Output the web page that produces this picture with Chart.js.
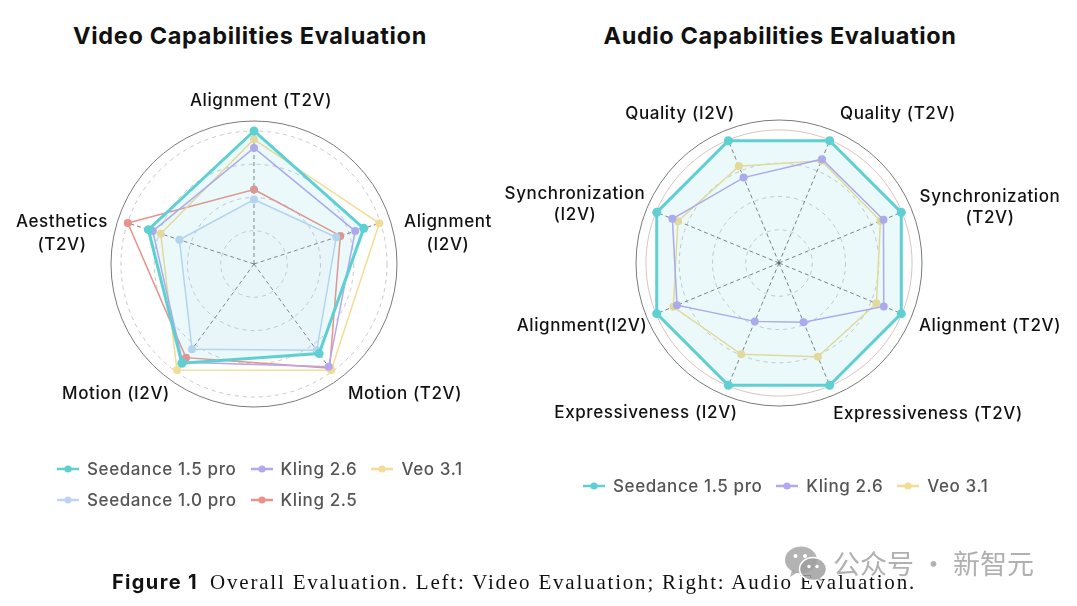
<!DOCTYPE html>
<html>
<head>
<meta charset="utf-8">
<script src="https://cdn.jsdelivr.net/npm/chart.js@4.4.0/dist/chart.umd.min.js"></script>
<style>
  html, body { margin:0; padding:0; background:#fff; width:1077px; height:606px; overflow:hidden; }
  body { position:relative; font-family: Inter, "DejaVu Sans", sans-serif; }
  canvas { position:absolute; top:0; }
  .title { position:absolute; top:21px; font-weight:700; font-size:23.5px; color:#111; white-space:nowrap; transform:translateX(-50%); line-height:30px; }
  .legend { position:absolute; display:grid; column-gap:14px; row-gap:0; font-size:17px; font-weight:500; color:#555; }
  .legend .item { display:flex; align-items:center; height:31px; white-space:nowrap; }
  .legend svg { margin-right:8px; flex:none; }
  .caption { position:absolute; left:112px; top:569px; white-space:nowrap; line-height:26px; }
  .caption .fig { font-family: Inter, sans-serif; font-weight:700; font-size:20px; color:#111; }
  .caption .txt { font-family: "Liberation Serif", serif; font-size:21px; color:#111; margin-left:12px; }
  .wm { position:absolute; left:833px; top:546px; font-family:"Noto Sans CJK SC", sans-serif; font-size:27px; color:rgba(150,150,150,0.75); white-space:nowrap; line-height:34px; }
  .wmicon { position:absolute; left:784px; top:545px; }
</style>
</head>
<body>
<div class="title" id="t1" style="left:250px">Video Capabilities Evaluation</div>
<div class="title" id="t2" style="left:780px">Audio Capabilities Evaluation</div>
<canvas id="video" width="540" height="606" style="left:0px"></canvas>
<canvas id="audio" width="637" height="606" style="left:440px"></canvas>
<div class="legend" id="legVideo" style="left:57px; top:453px; grid-template-columns:auto auto auto;"></div>
<div class="legend" id="legAudio" style="left:583px; top:470px; grid-template-columns:auto auto auto;"></div>
<div class="caption"><span class="fig" id="fig">Figure 1</span><span class="txt" id="cap">Overall Evaluation. Left: Video Evaluation; Right: Audio Evaluation.</span></div>
<svg class="wmicon" width="44" height="38" viewBox="0 0 44 38">
  <ellipse cx="17" cy="15" rx="16" ry="13.5" fill="rgba(160,160,160,0.8)"/>
  <path d="M8 25 L6 32 L14 27 Z" fill="rgba(160,160,160,0.8)"/>
  <ellipse cx="29" cy="24" rx="13.5" ry="11.5" fill="rgba(160,160,160,0.85)" stroke="#fff" stroke-width="1.5"/>
  <path d="M36 33 L39 37 L33 34 Z" fill="rgba(160,160,160,0.85)"/>
  <circle cx="11.5" cy="11" r="2" fill="#fff"/><circle cx="21" cy="11" r="2" fill="#fff"/>
  <circle cx="25" cy="21.5" r="1.7" fill="#fff"/><circle cx="33" cy="21.5" r="1.7" fill="#fff"/>
</svg>
<div class="wm">公众号 · 新智元</div>
<script>
// ---------------- DATA ----------------
const videoAxes = [['Alignment (T2V)'], ['Alignment', '(I2V)'], ['Motion (T2V)'], ['Motion (I2V)'], ['Aesthetics', '(T2V)']];
const videoSeries = ['Seedance 1.5 pro', 'Kling 2.6', 'Veo 3.1', 'Seedance 1.0 pro', 'Kling 2.5'];
const videoSeedance15 = [4.00, 3.47, 3.33, 3.69, 3.34];
const videoKling26    = [3.49, 3.20, 3.82, 3.65, 3.20];
const videoVeo31      = [3.75, 3.96, 3.95, 3.94, 2.95];
const videoSeedance10 = [1.94, 2.60, 3.21, 3.17, 2.36];
const videoKling25    = [2.24, 2.73, 3.87, 3.48, 3.99];

const audioAxes = [['Quality (T2V)'], ['Synchronization', '(T2V)'], ['Alignment (T2V)'], ['Expressiveness (T2V)'],
                   ['Expressiveness (I2V)'], ['Alignment(I2V)'], ['Synchronization', '(I2V)'], ['Quality (I2V)']];
const audioSeries = ['Seedance 1.5 pro', 'Kling 2.6', 'Veo 3.1'];
const audioSeedance15 = [3.98, 3.98, 3.98, 3.98, 3.98, 3.98, 3.98, 3.98];
const audioKling26    = [3.38, 3.40, 3.41, 1.93, 1.90, 3.32, 3.47, 2.78];
const audioVeo31      = [3.33, 3.30, 3.17, 3.05, 2.97, 3.44, 3.29, 3.15];

const gridTicks = [1, 2, 3, 4];
const scaleMax = 4.3;

// ---------------- STYLE / LAYOUT ----------------
const seriesStyle = {
  'Seedance 1.5 pro': { color:'#5fd0d2', width:3,   radius:4.5, fill:'rgba(95,208,210,0.12)' },
  'Kling 2.6':        { color:'#b4a6ef', width:1.5, radius:4 },
  'Veo 3.1':          { color:'#f3dc95', width:1.5, radius:4 },
  'Seedance 1.0 pro': { color:'#bdd5f3', width:1.5, radius:4, fill:'rgba(189,213,243,0.08)' },
  'Kling 2.5':        { color:'#ec9089', width:1.5, radius:4 }
};
const videoLabelOffsets = [[7,-163],[194,-31],[151,130],[-138,130],[-192,-31]];
const audioLabelOffsets = [[119,-149],[211,-56],[211,63],[149,151],[-133,150],[-197,63],[-204,-59],[-99,-149]];

const radarDecor = {
  id: 'radarDecor',
  beforeDatasetsDraw(chart, args, opts) {
    const s = chart.scales.r, ctx = chart.ctx;
    const d = s.getDistanceFromCenterForValue(gridTicks[gridTicks.length - 1]);
    ctx.save();
    ctx.strokeStyle = 'rgba(60,60,60,0.85)';
    ctx.lineWidth = 0.8;
    ctx.setLineDash([4, 3]);
    for (let i = 0; i < chart.data.labels.length; i++) {
      const p = s.getPointPosition(i, d);
      ctx.beginPath(); ctx.moveTo(s.xCenter, s.yCenter); ctx.lineTo(p.x, p.y); ctx.stroke();
    }
    ctx.restore();
  },
  afterDraw(chart, args, opts) {
    const s = chart.scales.r, ctx = chart.ctx;
    ctx.save();
    ctx.font = '500 17px Inter';
    ctx.fillStyle = '#111';
    if ('letterSpacing' in ctx) ctx.letterSpacing = '0.6px';
    ctx.textAlign = 'center';
    ctx.textBaseline = 'middle';
    chart.data.labels.forEach((lab, i) => {
      const lines = Array.isArray(lab) ? lab : [lab];
      const [dx, dy] = opts.offsets[i];
      const cx = s.xCenter + dx, cy = s.yCenter + dy;
      const n = lines.length;
      lines.forEach((t, k) => ctx.fillText(t, cx, cy + (k - (n - 1) / 2) * opts.lineHeight));
    });
    ctx.restore();
  }
};

function makeRadar(id, axes, names, values, startAngle, offsets, lineHeight, padding, redRing) {
  const tickVals = [0, ...gridTicks];
  if (redRing) tickVals.push(gridTicks[gridTicks.length - 1]);
  tickVals.push(scaleMax);
  const lastIdx = tickVals.length - 1;
  const redIdx = redRing ? lastIdx - 1 : -1;
  return new Chart(document.getElementById(id), {
    type: 'radar',
    data: {
      labels: axes,
      datasets: names.map((n, k) => {
        const st = seriesStyle[n];
        return {
          label: n, data: values[k],
          borderColor: st.color, backgroundColor: st.fill || 'rgba(0,0,0,0)',
          fill: !!st.fill, borderWidth: st.width,
          pointRadius: st.radius, pointBackgroundColor: st.color, pointBorderColor: st.color,
          pointBorderWidth: 0, pointHoverRadius: st.radius
        };
      })
    },
    options: {
      responsive: false, animation: false, devicePixelRatio: 1,
      layout: { padding },
      plugins: { legend: { display:false }, tooltip: { enabled:false }, radarDecor: { offsets, lineHeight } },
      elements: { line: { tension: 0 } },
      scales: {
        r: {
          min: 0, max: scaleMax, startAngle,
          afterBuildTicks: sc => { sc.ticks = tickVals.map(v => ({ value: v })); },
          ticks: { display:false },
          pointLabels: { display:false },
          angleLines: { display:false },
          grid: {
            circular: true,
            color: c => c.index === lastIdx ? '#7a7a7a' : (c.index === redIdx ? 'rgba(236,140,130,0.7)' : '#c2c2c2'),
            lineWidth: c => c.index === lastIdx ? 1 : 0.9
          },
          border: {
            dash: c => c.index === lastIdx ? [] : [4, 4],
            dashOffset: c => c.index === redIdx ? 4 : 0
          }
        }
      }
    },
    plugins: [radarDecor]
  });
}

makeRadar('video', videoAxes, videoSeries,
  [videoSeedance15, videoKling26, videoVeo31, videoSeedance10, videoKling25],
  0, videoLabelOffsets, 23, { left:111, top:121, right:143, bottom:199 }, false);
makeRadar('audio', audioAxes, audioSeries,
  [audioSeedance15, audioKling26, audioVeo31],
  22.5, audioLabelOffsets, 21, { left:196, top:120, right:155, bottom:200 }, true);

// ---------------- LEGENDS ----------------
function buildLegend(elId, names) {
  const el = document.getElementById(elId);
  names.forEach(n => {
    const c = seriesStyle[n].color;
    const d = document.createElement('div');
    d.className = 'item';
    d.innerHTML = `<svg width="22" height="10"><line x1="0" y1="5" x2="22" y2="5" stroke="${c}" stroke-width="2.5"/><circle cx="11" cy="5" r="3.6" fill="${c}"/></svg><span>${n}</span>`;
    d.style.letterSpacing = '0.6px';
    el.appendChild(d);
  });
}
buildLegend('legVideo', videoSeries);
buildLegend('legAudio', audioSeries);

// fit text widths to reference proportions
function fitWidth(id, target) {
  const el = document.getElementById(id);
  const w = el.getBoundingClientRect().width;
  const n = el.textContent.length;
  el.style.letterSpacing = ((target - w) / n) + 'px';
}
fitWidth('t1', 354);
fitWidth('t2', 353);
fitWidth('cap', 706);
fitWidth('fig', 86);
</script>
</body>
</html>
